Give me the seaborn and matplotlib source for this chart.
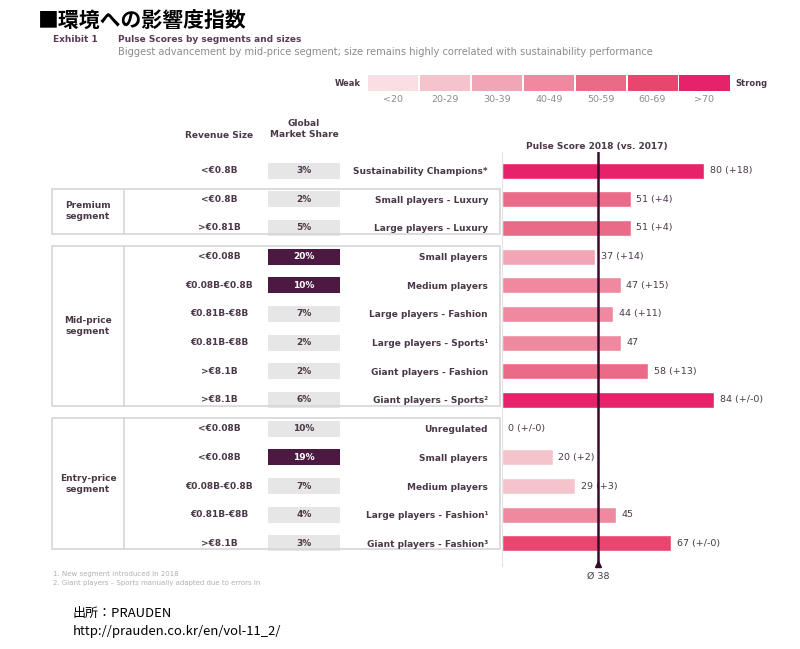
import matplotlib
matplotlib.use('Agg')
import matplotlib.pyplot as plt
import matplotlib.transforms as mtransforms
from matplotlib.patches import Rectangle
import numpy as np
import pandas as pd
import seaborn as sns

# datos
row_labels = ['Sustainability Champions*', 'Small players - Luxury', 'Large players - Luxury',
              'Small players', 'Medium players', 'Large players - Fashion', 'Large players - Sports¹',
              'Giant players - Fashion', 'Giant players - Sports²',
              'Unregulated', 'Small players', 'Medium players', 'Large players - Fashion¹',
              'Giant players - Fashion³']
revenue = ['<€0.8B', '<€0.8B', '>€0.81B',
           '<€0.08B', '€0.08B-€0.8B', '€0.81B-€8B', '€0.81B-€8B', '>€8.1B', '>€8.1B',
           '<€0.08B', '<€0.08B', '€0.08B-€0.8B', '€0.81B-€8B', '>€8.1B']
market_share = [3, 2, 5, 20, 10, 7, 2, 2, 6, 10, 19, 7, 4, 3]
share_highlight = [False, False, False, True, True, False, False, False, False,
                   False, True, False, False, False]
scores = [80, 51, 51, 37, 47, 44, 47, 58, 84, 0, 20, 29, 45, 67]
changes = ['+18', '+4', '+4', '+14', '+15', '+11', None, '+13', '+/-0',
           '+/-0', '+2', '+3', None, '+/-0']
mean_score = 38

segments = ['Premium\nsegment', 'Mid-price\nsegment', 'Entry-price\nsegment']
segment_rows = [(1, 2), (3, 8), (9, 13)]

bin_labels = ['<20', '20-29', '30-39', '40-49', '50-59', '60-69', '>70']
bin_edges = [-1, 19.5, 29.5, 39.5, 49.5, 59.5, 69.5, 200]
bin_colors = ['#f9dfe3', '#f5c3cc', '#f1a5b5', '#ee899f', '#ea6b87', '#e8456f', '#e5226a']

texto = '#4a3848'
gris = '#8c8c8c'
linea = '#d6d6d6'

sns.set_theme(style='white')
plt.rcParams['font.family'] = ['DejaVu Sans', 'Noto Sans CJK JP']

df = pd.DataFrame({'fila': range(len(scores)), 'score': scores})
df['rango'] = pd.cut(df['score'], bins=bin_edges, labels=bin_labels)
paleta = dict(zip(bin_labels, bin_colors))

fig = plt.figure(figsize=(8, 6.49), dpi=100)

# capa de fondo en pixeles
over = fig.add_axes([0, 0, 1, 1])
over.set_xlim(0, 800)
over.set_ylim(649, 0)
over.axis('off')

# eje de barras
ax = fig.add_axes([502 / 800, 1 - 566 / 649, 288 / 800, (566 - 152) / 649])
sns.barplot(data=df, x='score', y='fila', hue='rango', palette=paleta, orient='h',
            dodge=False, width=0.55, legend=False, ax=ax, hue_order=bin_labels,
            saturation=1)
ax.set_xlim(0, 288 / 2.525)
ax.set_ylim(13.79, -0.65)
ax.set_xlabel('')
ax.set_ylabel('')
ax.set_xticks([])
ax.set_yticks(range(len(row_labels)))
ax.set_yticklabels(row_labels, fontsize=6.5, fontweight='bold', color=texto)
ax.tick_params(axis='y', length=0, pad=10)
for s in ['top', 'right', 'bottom']:
    ax.spines[s].set_visible(False)
ax.spines['left'].set_color('#e4e4e4')
ax.spines['left'].set_linewidth(0.8)
ax.patch.set_alpha(0)

for i, (v, c) in enumerate(zip(scores, changes)):
    etiqueta = f'{v} ({c})' if c else f'{v}'
    ax.annotate(etiqueta, xy=(v, i), xytext=(4, 0), textcoords='offset points',
                va='center', ha='left', fontsize=6.8, color=texto)

# linea del promedio
ax.axvline(mean_score, color='#3b0b2e', lw=1.8, zorder=5)
ax.plot([mean_score], [13.72], marker='^', ms=5, color='#3b0b2e', clip_on=False, zorder=6)
ax.annotate(f'Ø {mean_score}', xy=(mean_score, 0), xycoords=ax.get_xaxis_transform(),
            xytext=(0, -4), textcoords='offset points', ha='center', va='top',
            fontsize=6.8, color=texto)

# tabla izquierda (x en pixeles, y en filas)
blend = mtransforms.blended_transform_factory(over.transData, ax.transData)
for i, (rev, ms, hl) in enumerate(zip(revenue, market_share, share_highlight)):
    over.text(219, i, rev, transform=blend, ha='center', va='center',
              fontsize=6.5, fontweight='bold', color=texto)
    over.add_patch(Rectangle((268, i - 0.275), 72, 0.55, transform=blend,
                             facecolor='#4b1942' if hl else '#e6e6e6', edgecolor='none'))
    over.text(304, i, f'{ms}%', transform=blend, ha='center', va='center',
              fontsize=6.5, fontweight='bold', color='white' if hl else texto)

for nombre, (a, b) in zip(segments, segment_rows):
    top, bot = a - 0.37, b + 0.2
    over.add_patch(Rectangle((52, top), 448, bot - top, transform=blend,
                             facecolor='none', edgecolor=linea, lw=1.2))
    over.plot([124, 124], [top, bot], transform=blend, color=linea, lw=1.2)
    over.text(88, (top + bot) / 2, nombre, transform=blend, ha='center', va='center',
              fontsize=6.5, fontweight='bold', color=texto, linespacing=1.3)

# encabezados
over.text(219, 136, 'Revenue Size', ha='center', va='center', fontsize=6.5,
          fontweight='bold', color=texto)
over.text(304, 129, 'Global\nMarket Share', ha='center', va='center', fontsize=6.5,
          fontweight='bold', color=texto, linespacing=1.3)
over.text(597, 147, 'Pulse Score 2018 (vs. 2017)', ha='center', va='center', fontsize=6.5,
          fontweight='bold', color=texto)

# leyenda de colores
for k, (lab, col) in enumerate(zip(bin_labels, bin_colors)):
    x0 = 368 + k * 51.9
    over.add_patch(Rectangle((x0, 75), 50.3, 15.7, facecolor=col, edgecolor='none'))
    over.text(x0 + 25, 100, lab, ha='center', va='center', fontsize=6.8, color=gris)
over.text(361, 83, 'Weak', ha='right', va='center', fontsize=6, fontweight='bold', color=texto)
over.text(735, 83, 'Strong', ha='left', va='center', fontsize=6, fontweight='bold', color=texto)

# titulos
over.text(38, 21, '■環境への影響度指数', ha='left', va='center', fontsize=15,
          fontweight='bold', color='black', family=['Noto Sans CJK JP', 'DejaVu Sans'])
over.text(53, 40, 'Exhibit 1', ha='left', va='center', fontsize=6.5, fontweight='bold', color='#5b3a57')
over.text(118, 40, 'Pulse Scores by segments and sizes', ha='left', va='center', fontsize=6.5,
          fontweight='bold', color='#5b3a57')
over.text(118, 52, 'Biggest advancement by mid-price segment; size remains highly correlated with sustainability performance',
          ha='left', va='center', fontsize=7.1, color=gris)

# notas
over.text(53, 574, '1. New segment introduced in 2018', ha='left', va='center', fontsize=5, color='#b0b0b0')
over.text(53, 583, '2. Giant players – Sports manually adapted due to errors in', ha='left', va='center',
          fontsize=5, color='#b0b0b0')

# fuente
over.text(73, 613, '出所：PRAUDEN', ha='left', va='center', fontsize=9.4, color='black',
          family=['Noto Sans CJK JP', 'DejaVu Sans'])
over.text(73, 632, 'http://prauden.co.kr/en/vol-11_2/', ha='left', va='center', fontsize=9.4,
          color='black', family=['Noto Sans CJK JP', 'DejaVu Sans'])

fig.savefig('out.png', dpi=100, facecolor='white')
